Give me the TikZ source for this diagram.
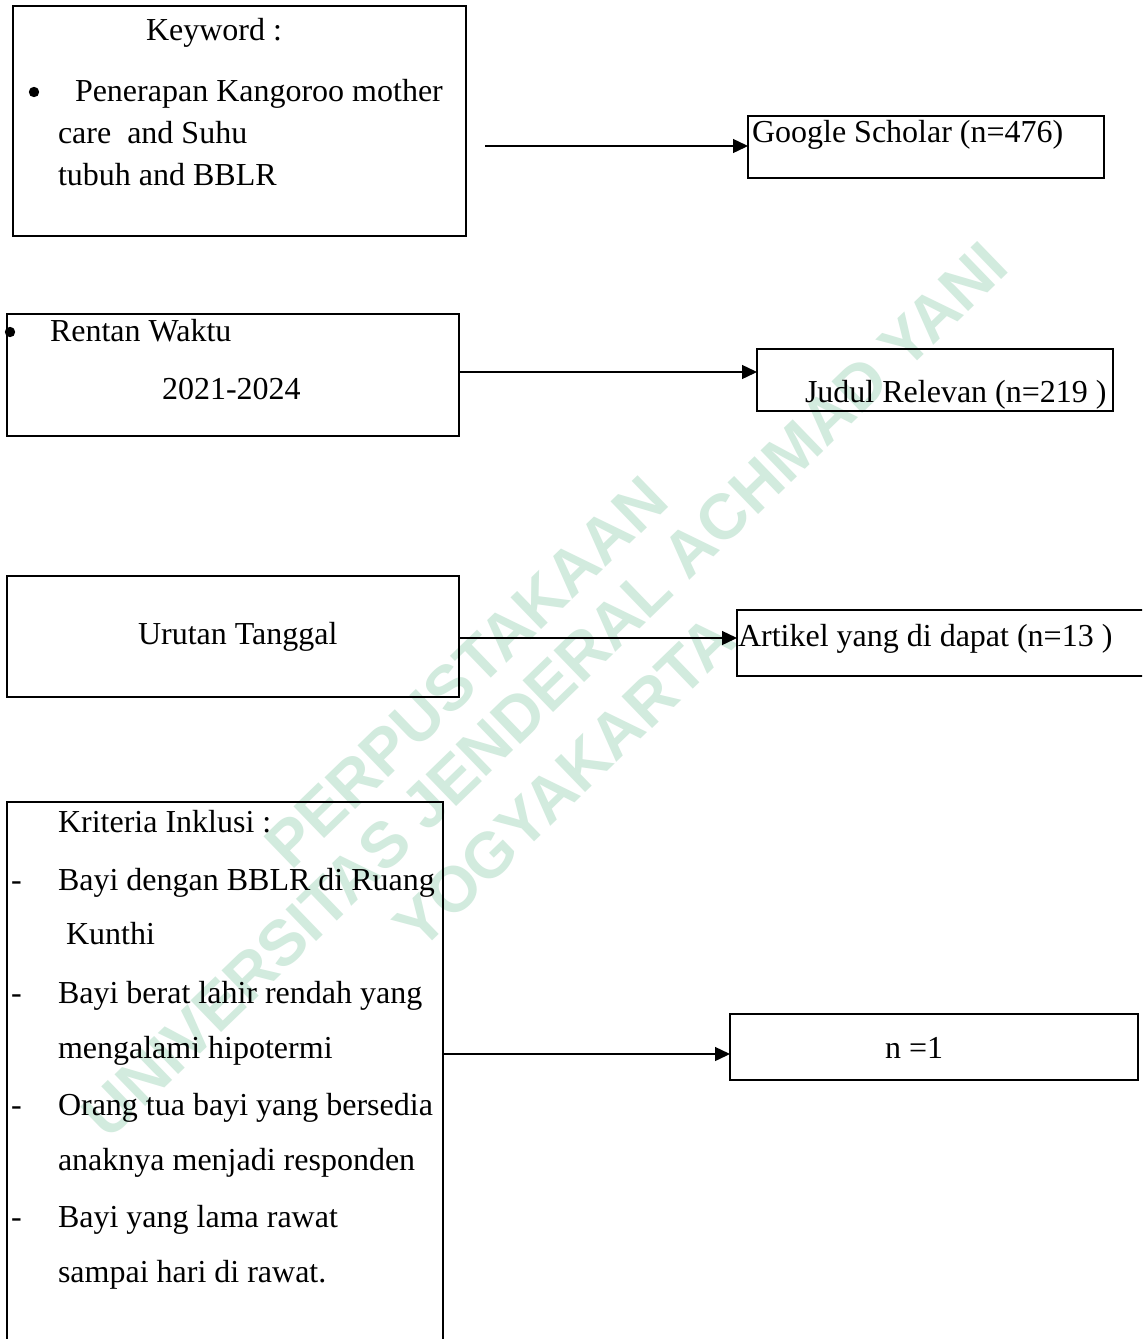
\documentclass[tikz,border=0pt]{standalone}
\usepackage{fontspec}
\setmainfont{Liberation Serif}
\newfontfamily\wmfont{Liberation Sans}
\usetikzlibrary{arrows.meta}
\definecolor{wmgreen}{RGB}{210,235,222}
\begin{document}
\begin{tikzpicture}[x=0.5pt,y=-0.5pt,
  box/.style={draw=black, line width=1pt, anchor=north west, inner sep=0pt, outer sep=0pt},
  txt/.style={anchor=base west, inner sep=0pt, outer sep=0pt, font=\fontsize{16}{19}\selectfont},
  dot/.style={circle, fill=black, inner sep=0pt, minimum size=5.2pt},
  arr/.style={line width=0.7pt, -{Triangle[length=7.5pt,width=7pt]}},
  wm/.style={text=wmgreen, inner sep=0pt, rotate=44, font=\wmfont\bfseries\fontsize{32}{37}\selectfont}]
\useasboundingbox (0,0) rectangle (1142,1339);
\clip (0,0) rectangle (1142,1339);
\fill[white] (0,0) rectangle (1142,1339);

% watermark
\node[wm] (wm1) at (466,672) {PERPUSTAKAAN};
\node[wm] (wm2) at (545,690) {UNIVERSITAS JENDERAL ACHMAD YANI};
\node[wm] (wm3) at (565,782) {YOGYAKARTA};

% boxes
\node[box, minimum width=226.5pt, minimum height=115pt] (kw) at (13,6) {};
\node[box, minimum width=178pt, minimum height=31pt] (gs) at (748,116) {};
\node[box, minimum width=226pt, minimum height=61pt] (rw) at (7,314) {};
\node[box, minimum width=178pt, minimum height=31pt] (jr) at (757,349) {};
\node[box, minimum width=226pt, minimum height=60.5pt] (ut) at (7,576) {};
\node[box, minimum width=210pt, minimum height=33pt] (ar) at (737,610) {};
\node[box, minimum width=218pt, minimum height=280pt] (kr) at (7,802) {};
\node[box, minimum width=204pt, minimum height=33pt] (n1) at (730,1014) {};

% texts box 1
\node[txt] (t1) at (146,40) {Keyword :};
\node[dot] (d1) at (34,92) {};
\node[txt] (t2) at (75,101) {Penerapan Kangoroo mother};
\node[txt] (t3) at (58,143) {care\ \ and Suhu};
\node[txt] (t4) at (58,185) {tubuh and BBLR};
\node[txt] (t5) at (752,142) {Google Scholar (n=476)};

% texts box 3/4
\node[dot] (d2) at (10,332) {};
\node[txt] (t6) at (50,341) {Rentan Waktu};
\node[txt] (t7) at (162,399) {2021-2024};
\node[txt] (t8) at (805,402) {Judul Relevan (n=219 )};

% texts box 5/6
\node[txt] (t9) at (138,644) {Urutan Tanggal};
\node[txt] (t10) at (738,646) {Artikel yang di dapat (n=13 )};

% texts box 7
\node[txt] (k0) at (58,832) {Kriteria Inklusi :};
\node[txt] (h1) at (11,890) {-};
\node[txt] (k1) at (58,890) {Bayi dengan BBLR di Ruang};
\node[txt] (k2) at (66,944) {Kunthi};
\node[txt] (h2) at (11,1003) {-};
\node[txt] (k3) at (58,1003) {Bayi berat lahir rendah yang};
\node[txt] (k4) at (58,1058) {mengalami hipotermi};
\node[txt] (h3) at (11,1115) {-};
\node[txt] (k5) at (58,1115) {Orang tua bayi yang bersedia};
\node[txt] (k6) at (58,1170) {anaknya menjadi responden};
\node[txt] (h4) at (11,1227) {-};
\node[txt] (k7) at (58,1227) {Bayi yang lama rawat};
\node[txt] (k8) at (58,1282) {sampai hari di rawat.};

% text box 8
\node[txt] (t11) at (885,1058) {n =1};

% connectors
\coordinate (a1) at (485,146);
\draw[arr] (a1) -- (a1 -| gs.west);
\draw[arr] (rw.east |- 0,372) -- (jr.west |- 0,372);
\draw[arr] (ut.east |- 0,638) -- (ar.west |- 0,638);
\draw[arr] (kr.east |- 0,1054) -- (n1.west |- 0,1054);
\end{tikzpicture}
\end{document}
